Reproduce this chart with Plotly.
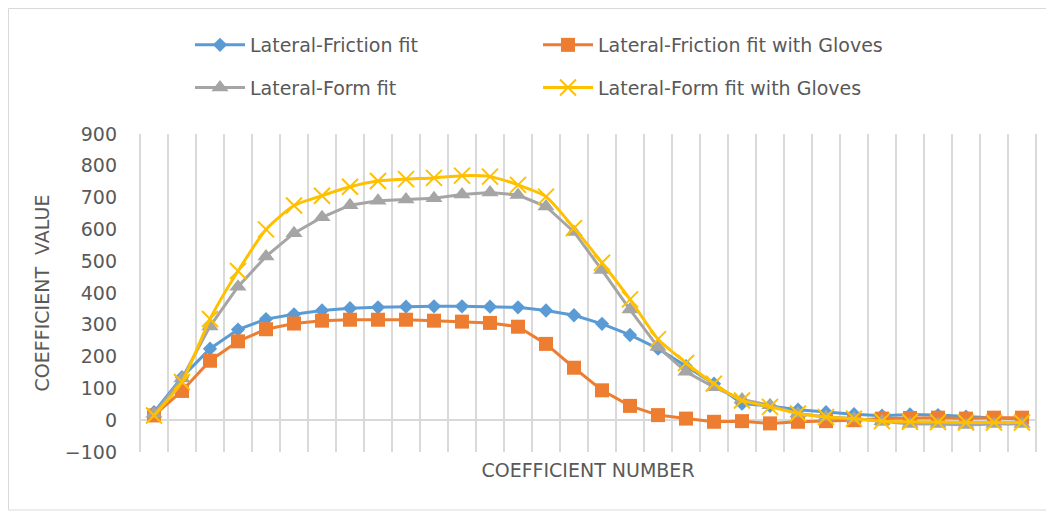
import plotly.graph_objects as go

coef_number = list(range(1, 33))

lateral_friction = [25, 135, 225, 285, 318, 333, 345, 352, 355, 357, 358, 358, 357, 355, 345, 330,
                    303, 268, 225, 170, 115, 52, 45, 33, 25, 19, 14, 18, 16, 11, 7, 4]
lateral_friction_gloves = [15, 92, 187, 248, 286, 304, 313, 316, 316, 316, 313, 310, 306, 294, 240, 165,
                           94, 45, 16, 5, -5, -3, -10, -5, -3, 0, 5, 7, 8, 5, 8, 8]
lateral_form = [20, 131, 295, 420, 515, 588, 638, 676, 690, 694, 698, 710, 716, 708, 672, 592,
                472, 348, 230, 152, 104, 65, 47, 21, 10, 5, -3, -12, -12, -15, -12, -12]
lateral_form_gloves = [15, 120, 318, 469, 600, 675, 706, 734, 752, 758, 762, 769, 766, 740, 703, 604,
                       495, 380, 255, 180, 115, 62, 42, 21, 10, 5, -3, -5, -6, -7, -7, -7]

y_ticks = [-100, 0, 100, 200, 300, 400, 500, 600, 700, 800, 900]

FONT = "DejaVu Sans"
TXT = "#595959"
GRID = "#D9D9D9"
# the page body has an 8px margin, so the figure is laid out 8px smaller
W, H = 1046, 506
ML, MT, MR, MB = 132, 126, 18, 62
PW, PH = W - ML - MR, H - MT - MB

fig = go.Figure()
fig.add_trace(go.Scatter(x=coef_number, y=lateral_friction, name="Lateral-Friction fit",
                         mode="lines+markers", legend="legend", legendgroup="a",
                         line=dict(color="#5B9BD5", width=3),
                         marker=dict(symbol="diamond", size=11, color="#5B9BD5")))
fig.add_trace(go.Scatter(x=coef_number, y=lateral_friction_gloves, name="Lateral-Friction fit with Gloves",
                         mode="lines+markers", legend="legend2", legendgroup="b",
                         line=dict(color="#ED7D31", width=3),
                         marker=dict(symbol="square", size=14, color="#ED7D31")))
fig.add_trace(go.Scatter(x=coef_number, y=lateral_form, name="Lateral-Form fit",
                         mode="lines+markers", legend="legend", legendgroup="c",
                         line=dict(color="#A5A5A5", width=3),
                         marker=dict(symbol="triangle-up", size=15, color="#A5A5A5")))
fig.add_trace(go.Scatter(x=coef_number, y=lateral_form_gloves, name="Lateral-Form fit with Gloves",
                         mode="lines+markers", legend="legend2", legendgroup="d",
                         line=dict(color="#FFC000", width=3, shape="spline", smoothing=0.6),
                         marker=dict(symbol="x-thin", size=16, color="#FFC000",
                                     line=dict(color="#FFC000", width=2))))

legend_common = dict(orientation="v", xanchor="left", yanchor="top",
                     y=1 + (MT - 18) / PH,
                     bgcolor="rgba(0,0,0,0)", font=dict(family=FONT, size=19, color=TXT),
                     tracegroupgap=15, itemwidth=50)

fig.update_layout(
    width=W, height=H,
    margin=dict(l=ML, r=MR, t=MT, b=MB),
    paper_bgcolor="white", plot_bgcolor="white",
    font=dict(family=FONT, size=19, color=TXT),
    showlegend=True,
    legend=dict(x=(182 - ML) / PW, **legend_common),
    legend2=dict(x=(530 - ML) / PW, **legend_common),
    xaxis=dict(range=[0.5, 32.5], tick0=0.5, dtick=1, showticklabels=False,
               showgrid=True, gridcolor=GRID, gridwidth=2, zeroline=False, showline=False,
               title=dict(text="COEFFICIENT NUMBER", font=dict(family=FONT, size=19, color=TXT),
                          standoff=11)),
    yaxis=dict(range=[-100, 900], tickvals=y_ticks, showgrid=False,
               zeroline=True, zerolinecolor=GRID, zerolinewidth=2, showline=False,
               ticklabelstandoff=22, tickfont=dict(family=FONT, size=19, color=TXT),
               title=dict(text="COEFFICIENT  VALUE", font=dict(family=FONT, size=19, color=TXT),
                          standoff=10)),
    shapes=[
        dict(type="rect", xref="paper", yref="paper",
             x0=(0.5 - ML) / PW, x1=(1042 - ML) / PW,
             y0=(MT + PH - 502) / PH, y1=(MT + PH - 0.5) / PH,
             line=dict(color=GRID, width=1), fillcolor="rgba(0,0,0,0)", layer="below"),
        # edge gridlines of the category axis (plotly omits those at the range ends)
        dict(type="line", xref="paper", yref="paper", x0=0, x1=0, y0=0, y1=1,
             line=dict(color=GRID, width=2), layer="below"),
        dict(type="line", xref="paper", yref="paper", x0=1, x1=1, y0=0, y1=1,
             line=dict(color=GRID, width=2), layer="below"),
    ],
)

fig.write_html("out.html")
